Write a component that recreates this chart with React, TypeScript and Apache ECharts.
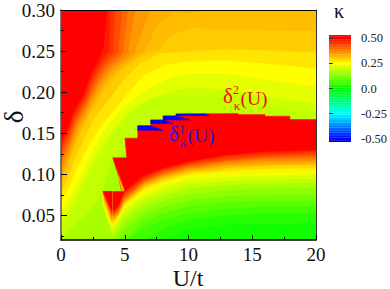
import React, { useEffect, useRef } from "react";
import * as echarts from "echarts";

type Pt = [number, number];
type Contour = { kappa: number; points: Pt[] };

const xTicks = [0, 5, 10, 15, 20];
const yTickValues = [0.05, 0.1, 0.15, 0.2, 0.25, 0.3];
const yMinorValues = [0.025, 0.075, 0.125, 0.175, 0.225, 0.275];
const barTickValues = [-0.5, -0.25, 0, 0.25, 0.5];

// Filled contours above and left of the ridge, painted from low to high kappa.
const upperContours: Contour[] = [
  { kappa: 0.165, points: [[0, 0.02], [20, 0.02], [20, 0.3], [0, 0.3]] },
  { kappa: 0.19, points: [[0, 0.0218], [1.33, 0.0414], [2.67, 0.0621], [3.22, 0.0792], [4.08, 0.1194], [5.41, 0.1292], [20, 0.1292], [20, 0.3], [0, 0.3]] },
  { kappa: 0.2, points: [[0, 0.034], [1.1, 0.0621], [2.12, 0.095], [3.06, 0.1231], [4.24, 0.1512], [5.41, 0.1743], [6.82, 0.1902], [8.16, 0.1963], [10.12, 0.1963], [12.86, 0.1926], [16, 0.1841], [20, 0.1756], [20, 0.3], [0, 0.3]] },
  { kappa: 0.225, points: [[0, 0.0414], [0.86, 0.0645], [1.8, 0.095], [2.75, 0.1231], [4, 0.1536], [5.41, 0.178], [6.98, 0.1926], [8.55, 0.2012], [10.12, 0.2061], [12.86, 0.2036], [16, 0.1951], [20, 0.1865], [20, 0.3], [0, 0.3]] },
  { kappa: 0.25, points: [[0, 0.056], [0.71, 0.0731], [1.49, 0.0975], [2.35, 0.1255], [3.37, 0.1536], [4.63, 0.178], [5.96, 0.1963], [7.37, 0.2097], [8.94, 0.2195], [10.12, 0.2231], [12.86, 0.2231], [16, 0.2158], [20, 0.2073], [20, 0.3], [0, 0.3]] },
  { kappa: 0.275, points: [[0, 0.067], [0.55, 0.0828], [1.25, 0.1072], [2.04, 0.1316], [3.14, 0.1585], [4.39, 0.1829], [5.49, 0.2036], [6.59, 0.2219], [8.16, 0.2329], [10.12, 0.2378], [12.86, 0.239], [16, 0.2353], [20, 0.2292], [20, 0.3], [0, 0.3]] },
  { kappa: 0.3, points: [[0, 0.0767], [0.39, 0.0902], [0.94, 0.1133], [1.73, 0.1414], [2.59, 0.1682], [3.84, 0.1926], [4.94, 0.2158], [6.2, 0.2353], [7.76, 0.2475], [10.12, 0.25], [12.86, 0.2524], [16, 0.2512], [20, 0.2488], [20, 0.3], [0, 0.3]] },
  { kappa: 0.315, points: [[0, 0.0853], [0.31, 0.0987], [0.78, 0.1207], [1.49, 0.15], [2.35, 0.1756], [3.29, 0.2], [4.39, 0.222], [5.73, 0.239], [6.82, 0.2488], [7.69, 0.2512], [8.16, 0.2622], [8.94, 0.2707], [10.12, 0.278], [12.86, 0.2768], [16, 0.2756], [20, 0.2744], [20, 0.3], [0, 0.3]] },
  { kappa: 0.33, points: [[0, 0.0926], [0.75, 0.1253], [1.42, 0.1532], [2.27, 0.1782], [3.16, 0.2026], [4.2, 0.2241], [6.35, 0.2488], [6.59, 0.2512], [7.53, 0.2817], [8.78, 0.2976], [10.12, 0.2963], [11.69, 0.3], [0, 0.3]] },
  { kappa: 0.35, points: [[0, 0.1], [0.71, 0.1295], [1.36, 0.1563], [2.2, 0.1807], [3.04, 0.2051], [4.02, 0.2262], [5.92, 0.2488], [5.8, 0.2512], [6.98, 0.3], [0, 0.3]] },
  { kappa: 0.375, points: [[0, 0.1085], [0.66, 0.1348], [1.27, 0.1602], [2.1, 0.1841], [2.88, 0.2085], [3.8, 0.2288], [5.38, 0.2488], [5.25, 0.2512], [5.8, 0.3], [0, 0.3]] },
  { kappa: 0.4, points: [[0, 0.1158], [0.62, 0.139], [1.21, 0.1634], [2.02, 0.1865], [2.76, 0.2109], [3.61, 0.2308], [4.94, 0.2488], [4.86, 0.2512], [5.25, 0.3], [0, 0.3]] },
  { kappa: 0.425, points: [[0, 0.1231], [0.58, 0.1434], [1.14, 0.1663], [1.95, 0.189], [2.64, 0.2134], [3.44, 0.2329], [4.52, 0.2488], [4.47, 0.2512], [4.78, 0.3], [0, 0.3]] },
  { kappa: 0.45, points: [[0, 0.1298], [0.55, 0.1475], [1.07, 0.1695], [1.88, 0.1914], [2.51, 0.2158], [3.26, 0.2349], [4.08, 0.2488], [4.08, 0.2512], [4.24, 0.3], [0, 0.3]] },
  { kappa: 0.475, points: [[0, 0.1368], [0.51, 0.1518], [1.0, 0.1725], [1.8, 0.1939], [2.4, 0.2183], [3.08, 0.2369], [3.65, 0.2488], [3.76, 0.2512], [3.84, 0.3], [0, 0.3]] },
  { kappa: 0.5, points: [[0, 0.1414], [0.47, 0.1537], [0.94, 0.1756], [1.73, 0.1963], [2.27, 0.2207], [2.9, 0.239], [3.22, 0.2488], [3.29, 0.2512], [3.61, 0.3], [0, 0.3]] },
];

// The red kappa = 0.5 wedge with its staircase top edge.
const ridgeOutline: Pt[] = [
  [3.32, 0.079], [4.94, 0.079], [4.05, 0.12], [5.15, 0.12], [5.02, 0.144], [6.02, 0.144],
  [6.02, 0.159], [7.04, 0.159], [7.04, 0.166], [8.02, 0.166], [8.02, 0.171], [9.02, 0.171],
  [9.02, 0.1735], [13.88, 0.174], [13.88, 0.1727], [16, 0.1727], [16, 0.1707], [17.96, 0.1707],
  [17.96, 0.1667], [20, 0.1667], [20, 0.12], [4, 0.04],
];

// Orange fading along the lower part of the first red step's slanted edge.
const stepFringe: Contour[] = [
  { kappa: 0.42, points: [[4.4, 0.105], [5.0, 0.0804], [4.72, 0.0804]] },
  { kappa: 0.32, points: [[4.5, 0.0975], [4.94, 0.0804], [4.8, 0.0804]] },
];

// Contours under the ridge: delta read at each U in pocketU, kappa falling.
const pocketU = [4, 4.5, 5, 6.5, 8, 10, 13, 16, 20];
const pocketKappa = [0.4625, 0.4375, 0.4125, 0.3875, 0.3625, 0.3375, 0.3125, 0.2875, 0.2625, 0.2375, 0.2125, 0.1875, 0.1625, 0.1375, 0.1125, 0.0875, 0.0625, 0.0375, 0.0175];
const pocketDelta = [
  [0.054, 0.061, 0.079, 0.098, 0.107, 0.115, 0.123, 0.127, 0.129],
  [0.052, 0.060, 0.077, 0.095, 0.105, 0.113, 0.121, 0.124, 0.127],
  [0.050, 0.058, 0.074, 0.093, 0.103, 0.112, 0.118, 0.122, 0.124],
  [0.049, 0.056, 0.072, 0.091, 0.101, 0.110, 0.116, 0.120, 0.122],
  [0.047, 0.054, 0.070, 0.090, 0.099, 0.108, 0.115, 0.118, 0.119],
  [0.045, 0.052, 0.068, 0.088, 0.098, 0.106, 0.112, 0.115, 0.116],
  [0.043, 0.051, 0.066, 0.086, 0.096, 0.104, 0.110, 0.112, 0.113],
  [0.040, 0.050, 0.065, 0.084, 0.094, 0.102, 0.107, 0.110, 0.111],
  [0.038, 0.048, 0.063, 0.082, 0.091, 0.100, 0.104, 0.106, 0.107],
  [0.035, 0.046, 0.061, 0.079, 0.089, 0.098, 0.101, 0.102, 0.104],
  [0.033, 0.044, 0.057, 0.074, 0.084, 0.093, 0.096, 0.098, 0.099],
  [0.029, 0.040, 0.052, 0.069, 0.079, 0.088, 0.091, 0.093, 0.094],
  [0.024, 0.035, 0.046, 0.063, 0.073, 0.082, 0.087, 0.088, 0.089],
  [0.019, 0.029, 0.039, 0.057, 0.067, 0.075, 0.080, 0.082, 0.083],
  [0.019, 0.019, 0.031, 0.050, 0.060, 0.068, 0.073, 0.074, 0.075],
  [0.019, 0.019, 0.019, 0.043, 0.052, 0.061, 0.066, 0.067, 0.068],
  [0.019, 0.019, 0.019, 0.034, 0.045, 0.052, 0.058, 0.060, 0.061],
  [0.019, 0.019, 0.019, 0.019, 0.034, 0.044, 0.050, 0.052, 0.052],
  [0.019, 0.019, 0.019, 0.019, 0.019, 0.032, 0.039, 0.039, 0.041],
];

// Left half of the small V under the first red step.
const vContours: Contour[] = [
  { kappa: 0.2, points: [[4, 0.029], [3.61, 0.045], [3.29, 0.062], [3.22, 0.079], [4, 0.079]] },
  { kappa: 0.25, points: [[4, 0.035], [3.65, 0.048], [3.33, 0.062], [3.24, 0.079], [4, 0.079]] },
  { kappa: 0.3, points: [[4, 0.04], [3.69, 0.051], [3.37, 0.065], [3.25, 0.079], [4, 0.079]] },
  { kappa: 0.35, points: [[4, 0.045], [3.73, 0.056], [3.45, 0.067], [3.28, 0.079], [4, 0.079]] },
  { kappa: 0.4, points: [[4, 0.049], [3.76, 0.058], [3.49, 0.068], [3.29, 0.079], [4, 0.079]] },
  { kappa: 0.45, points: [[4, 0.052], [3.76, 0.061], [3.53, 0.069], [3.29, 0.079], [4, 0.079]] },
  { kappa: 0.5, points: [[4, 0.056], [3.76, 0.063], [3.57, 0.07], [3.32, 0.079], [4, 0.079]] },
];

// The thin blue kappa = -0.5 slivers on top of the red staircase.
const blueContours: Contour[] = [
  { kappa: -0.5, points: [[6.02, 0.159], [7.06, 0.159], [7.98, 0.1536], [6.02, 0.1536]] },
  { kappa: -0.5, points: [[7.04, 0.1662], [8.02, 0.1662], [8.81, 0.1618], [7.04, 0.1618]] },
  { kappa: -0.5, points: [[8.02, 0.1711], [9.02, 0.1711], [10.12, 0.1662], [8.02, 0.1662]] },
  { kappa: -0.5, points: [[9.02, 0.1735], [11.29, 0.1735], [11.69, 0.1715], [9.02, 0.1715]] },
];

const barLevels = [
  -0.525, -0.5, -0.475, -0.45, -0.425, -0.4, -0.375, -0.35, -0.325, -0.3, -0.275, -0.25, -0.225, -0.2, -0.175, -0.15, -0.125, -0.1, -0.075, -0.05, -0.025,
  0, 0.025, 0.05, 0.075, 0.1, 0.125, 0.15, 0.175, 0.2, 0.225, 0.25, 0.275, 0.3, 0.325, 0.35, 0.375, 0.4, 0.425, 0.45, 0.475, 0.5, 0.525,
];

function kappaColor(k: number): string {
  if (k < -0.51) return "#0000c8";
  const v = Math.max(-0.5, Math.min(0.5, k));
  let r = 0, g = 0, b = 0;
  if (v >= 0.25) { r = 255; g = (255 * (0.5 - v)) / 0.25; }
  else if (v >= 0) { r = (255 * v) / 0.25; g = 255; }
  else if (v >= -0.25) { g = 255; b = (255 * -v) / 0.25; }
  else { g = (255 * (0.5 + v)) / 0.25; b = 255; }
  return `rgb(${Math.round(r)},${Math.round(g)},${Math.round(b)})`;
}

const serif = "'Liberation Serif', 'Times New Roman', serif";

const mapShapes: Contour[] = [
  ...upperContours,
  { kappa: 0.5, points: ridgeOutline },
  ...stepFringe,
  ...pocketKappa.map((kappa, i) => ({
    kappa,
    points: [...pocketU.map((u, j) => [u, pocketDelta[i][j]] as Pt), [20, 0.02] as Pt, [4, 0.02] as Pt],
  })),
  ...vContours,
  ...blueContours,
];

export default function App() {
  const ref = useRef<HTMLDivElement>(null);
  useEffect(() => {
    const chart = echarts.init(ref.current!, undefined, { renderer: "svg" });
    const label = (text: string, x: number, y: number, size: number, fill: string, extra: any = {}) => ({
      type: "text",
      x,
      y,
      z: 50,
      ...extra,
      style: { text, fill, font: `${size}px ${serif}`, textAlign: "center", textVerticalAlign: "middle" },
    });
    chart.setOption({
      animation: false,
      backgroundColor: "#ffffff",
      grid: [
        { left: 61, top: 10, width: 255, height: 230, containLabel: false, outerBoundsMode: "none" },
        { left: 329, top: 35, width: 22, height: 107, containLabel: false, outerBoundsMode: "none" },
      ],
      xAxis: [
        {
          gridIndex: 0, type: "value", position: "bottom", min: 0, max: 20, interval: 5, z: 10,
          axisLine: { show: true, lineStyle: { color: "#000", width: 1.5 } },
          axisTick: { inside: true, length: 5, lineStyle: { color: "#000", width: 1 } },
          minorTick: { show: true, splitNumber: 2, length: 3, lineStyle: { color: "#000", width: 1 } },
          splitLine: { show: false },
          axisLabel: { fontFamily: serif, fontSize: 19, color: "#111", margin: 5, showMinLabel: true, showMaxLabel: true, customValues: xTicks },
        },
        {
          gridIndex: 0, type: "value", position: "top", min: 0, max: 20, z: 10,
          axisLine: { show: true, onZero: false, lineStyle: { color: "#000", width: 1 } },
          axisTick: { show: false }, axisLabel: { show: false }, splitLine: { show: false },
        },
        { gridIndex: 1, type: "value", min: 0, max: 1, show: false },
      ],
      yAxis: [
        {
          gridIndex: 0, type: "value", position: "left", min: 0.02, max: 0.3, z: 10,
          axisLine: { show: true, onZero: false, lineStyle: { color: "#555", width: 1.5 } },
          axisTick: { inside: true, length: 6, customValues: yTickValues, lineStyle: { color: "#000", width: 1 } },
          splitLine: { show: false },
          axisLabel: {
            fontFamily: serif, fontSize: 19, color: "#111", margin: 6, customValues: yTickValues,
            formatter: (v: number) => v.toFixed(2),
          },
        },
        {
          gridIndex: 0, type: "value", position: "left", min: 0.02, max: 0.3, z: 10,
          axisLine: { show: false },
          axisTick: { inside: true, length: 3, customValues: yMinorValues, lineStyle: { color: "#000", width: 1 } },
          splitLine: { show: false }, axisLabel: { show: false },
        },
        {
          gridIndex: 0, type: "value", position: "right", min: 0.02, max: 0.3, z: 10,
          axisLine: { show: true, onZero: false, lineStyle: { color: "#333", width: 1 } },
          axisTick: { show: false }, axisLabel: { show: false }, splitLine: { show: false },
        },
        {
          gridIndex: 1, type: "value", position: "right", min: -0.53, max: 0.53, z: 10,
          axisLine: { show: false },
          axisTick: { length: 4, customValues: barTickValues, lineStyle: { color: "#333", width: 1 } },
          splitLine: { show: false },
          axisLabel: {
            fontFamily: serif, fontSize: 12.5, color: "#222", margin: 10, customValues: barTickValues,
            formatter: (v: number) => (v === 0 ? "0.0" : v.toFixed(2)),
          },
        },
      ],
      series: [
        {
          type: "custom", xAxisIndex: 0, yAxisIndex: 0, clip: true, silent: true,
          data: mapShapes.map((_, i) => [i, 0]),
          renderItem: (params: any, api: any) => {
            const shape = mapShapes[params.dataIndex];
            const fill = kappaColor(shape.kappa);
            return {
              type: "polygon",
              shape: { points: shape.points.map((p) => api.coord(p)) },
              style: { fill, stroke: fill, lineWidth: 0.5 },
            };
          },
        },
        {
          type: "custom", xAxisIndex: 2, yAxisIndex: 3, clip: true, silent: true,
          data: barLevels.map((k) => [0, k]),
          renderItem: (params: any, api: any) => {
            const k = barLevels[params.dataIndex];
            const a = api.coord([0, k + 0.0125]);
            const b = api.coord([1, k - 0.0125]);
            const fill = kappaColor(k);
            return {
              type: "rect",
              shape: { x: a[0], y: a[1], width: b[0] - a[0], height: b[1] - a[1] },
              style: { fill, stroke: fill, lineWidth: 0.3 },
            };
          },
        },
      ],
      graphic: [
        label("U/t", 188, 277.5, 24, "#111"),
        label("δ", 14, 117, 27, "#111", { rotation: Math.PI / 2 }),
        label("κ", 339, 11, 20, "#111"),
        label("δ", 228, 96, 21, "#f01010"),
        label("2", 236, 90, 12, "#f01010"),
        label("κ", 237, 105, 13, "#f01010"),
        label("(U)", 254, 98, 19.5, "#f01010"),
        label("δ", 174, 134, 21, "#1a1ae0"),
        label("1", 182, 129, 12, "#1a1ae0"),
        label("κ", 183, 142, 13, "#1a1ae0"),
        label("(U)", 201, 135, 19.5, "#1a1ae0"),
      ],
    });
    return () => chart.dispose();
  }, []);
  return <div ref={ref} style={{ position: "absolute", left: 0, top: 0, width: 390, height: 289 }} />;
}
